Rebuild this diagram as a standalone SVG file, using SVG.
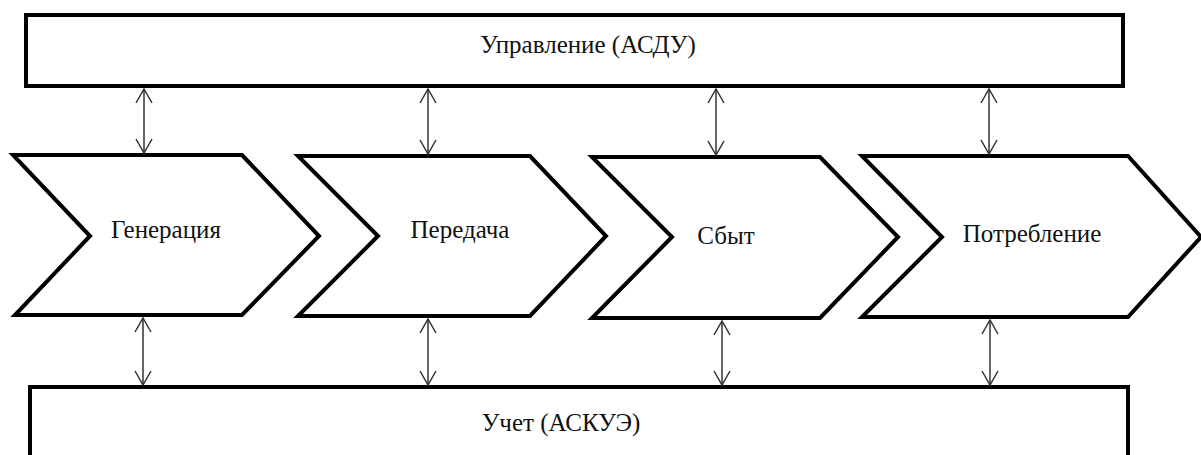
<svg xmlns="http://www.w3.org/2000/svg" width="1201" height="455" viewBox="0 0 1201 455">
  <style>
    .box { fill: #fff; stroke: #000; stroke-width: 4; stroke-linejoin: miter; }
    .lbl { font-family: 'Liberation Serif', 'Times New Roman', 'DejaVu Serif', serif; font-size: 25px; fill: #111; text-anchor: middle; }
    .conn { stroke: #333; stroke-width: 1.5; fill: none; marker-start: url(#ah); marker-end: url(#ah); }
  </style>
  <defs>
    <marker id="ah" viewBox="-16 -10 18 20" refX="0" refY="0" markerWidth="18" markerHeight="20" markerUnits="userSpaceOnUse" orient="auto-start-reverse">
      <path d="M-14,-8 L0,0 L-14,8" fill="none" stroke="#333" stroke-width="1.5"/>
    </marker>
  </defs>
  <rect width="1201" height="455" fill="#fff"/>

  <g id="upravlenie">
    <rect class="box" x="26" y="15" width="1097" height="71"/>
    <text class="lbl" font-family="Liberation Serif, serif" x="588" y="53">Управление (АСДУ)</text>
  </g>

  <g id="generaciya">
    <polygon class="box" points="13,155 242,155 319,236 242,315 15,315 90,236"/>
    <text class="lbl" font-family="Liberation Serif, serif" x="166" y="238">Генерация</text>
  </g>

  <g id="peredacha">
    <polygon class="box" points="298,156 530,156 606,236 530,316 298,316 378,236"/>
    <text class="lbl" font-family="Liberation Serif, serif" x="460" y="238">Передача</text>
  </g>

  <g id="sbyt">
    <polygon class="box" points="592,157 820,157 898,237 820,318 592,318 672,237"/>
    <text class="lbl" font-family="Liberation Serif, serif" x="726" y="244">Сбыт</text>
  </g>

  <g id="potreblenie">
    <polygon class="box" points="862,156 1128,156 1201,237 1128,317 862,317 942,237"/>
    <text class="lbl" font-family="Liberation Serif, serif" x="1032" y="242">Потребление</text>
  </g>

  <g id="uchet">
    <rect class="box" x="30" y="387" width="1098" height="90"/>
    <text class="lbl" font-family="Liberation Serif, serif" x="561" y="431">Учет (АСКУЭ)</text>
  </g>

  <g id="connectors">
    <line class="conn" x1="144" y1="89" x2="144" y2="153"/>
    <line class="conn" x1="428" y1="89" x2="428" y2="154"/>
    <line class="conn" x1="716" y1="89" x2="716" y2="155"/>
    <line class="conn" x1="989" y1="89" x2="989" y2="154"/>
    <line class="conn" x1="143" y1="318" x2="143" y2="385"/>
    <line class="conn" x1="428" y1="319" x2="428" y2="385"/>
    <line class="conn" x1="722" y1="321" x2="722" y2="385"/>
    <line class="conn" x1="990" y1="320" x2="990" y2="385"/>
  </g>
</svg>
